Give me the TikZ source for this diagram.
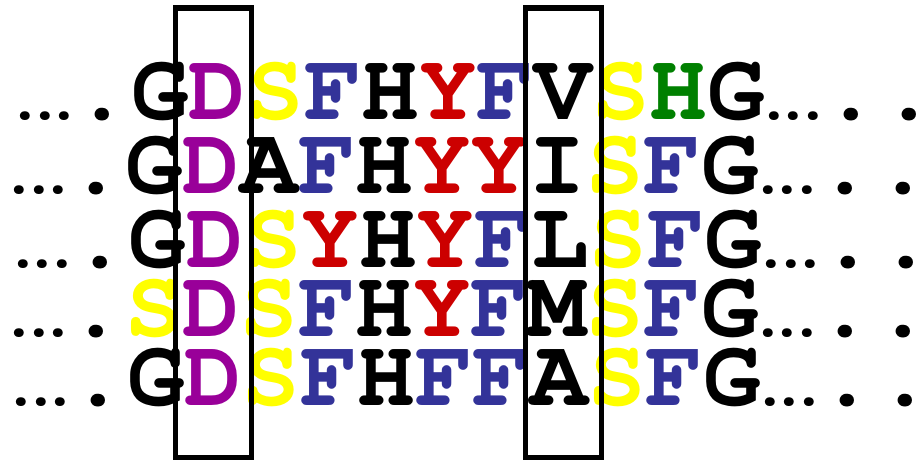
\documentclass[tikz,border=0pt]{standalone}
\usepackage[T1]{fontenc}
\usepackage{courier}
\usetikzlibrary{positioning}
\definecolor{cpurple}{HTML}{990099}
\definecolor{cyellow}{HTML}{FFFF00}
\definecolor{cblue}{HTML}{333399}
\definecolor{cred}{HTML}{CC0000}
\definecolor{cgreen}{HTML}{008000}
\tikzset{
  every picture/.style={x=1pt, y=-1pt},
  seq/.style={font=\fontsize{96}{96}\ttfamily\bfseries\selectfont, inner sep=0pt, anchor=base west},
  colbox/.style={draw=black, line width=5.5pt},
}
% three small dots filling one cell
\newcommand{\gap}{\makebox[0.6em]{\fontsize{66}{66}\selectfont.\kern-20.1pt.\kern-20.1pt.}}
\newcommand{\rpur}[1]{\textcolor{cpurple}{#1}}
\newcommand{\ryel}[1]{\textcolor{cyellow}{#1}}
\newcommand{\rblu}[1]{\textcolor{cblue}{#1}}
\newcommand{\rred}[1]{\textcolor{cred}{#1}}
\newcommand{\rgrn}[1]{\textcolor{cgreen}{#1}}

\begin{document}
\begin{tikzpicture}
  \useasboundingbox (0,0) rectangle (916,460);
  % aligned sequences
  \foreach \n/\x/\y/\s in {
    1/15.9/119/{\gap.G\rpur{D}\ryel{S}\rblu{F}H\rred{Y}\rblu{F}V\ryel{S}\rgrn{H}G\gap..},
    2/9.9/193/{\gap.G\rpur{D}A\rblu{F}H\rred{Y}\rred{Y}I\ryel{S}\rblu{F}G\gap..},
    3/13.4/267/{\gap.G\rpur{D}\ryel{S}\rred{Y}H\rred{Y}\rblu{F}L\ryel{S}\rblu{F}G\gap..},
    4/9.9/336/{\gap.\ryel{S}\rpur{D}\ryel{S}\rblu{F}H\rred{Y}\rblu{F}M\ryel{S}\rblu{F}G\gap..},
    5/11.9/405/{\gap.G\rpur{D}\ryel{S}\rblu{F}H\rblu{F}\rblu{F}A\ryel{S}\rblu{F}G\gap..}}
    { \node[seq] (r\n) at (\x,\y) {\s}; }
  % conserved columns
  \draw[colbox] (175.3,8) rectangle (251.7,457.5);
  \draw[colbox] (525.7,8) rectangle (601.5,457.5);
\end{tikzpicture}
\end{document}
